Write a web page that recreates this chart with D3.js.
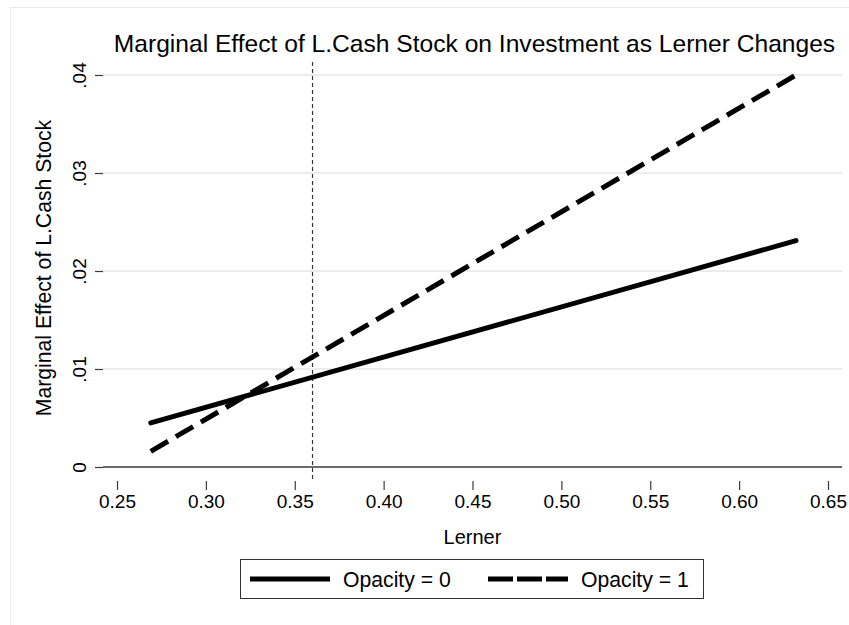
<!DOCTYPE html>
<html>
<head>
<meta charset="utf-8">
<script src="https://cdn.jsdelivr.net/npm/d3@7"></script>
<style>
  body { margin: 0; background: #fff; }
  text { font-family: 'Liberation Sans', Arial, sans-serif; fill: #000; }
</style>
</head>
<body>
<script>
const lerner = [0.269, 0.632];
const opacity0 = [0.0045, 0.0231];
const opacity1 = [0.0016, 0.04];
const meanLerner = 0.36;
const xTicks = [0.25, 0.3, 0.35, 0.4, 0.45, 0.5, 0.55, 0.6, 0.65];
const yTicks = [0, 0.01, 0.02, 0.03, 0.04];
const yTickLabels = ['0', '.01', '.02', '.03', '.04'];
const seriesNames = ['Opacity = 0', 'Opacity = 1'];

const W = 849, H = 625;
const plot = { left: 103, right: 842, top: 62, bottom: 481 };

const svg = d3.select('body').append('svg')
  .attr('width', W)
  .attr('height', H);

// outer graph frame
svg.append('rect')
  .attr('x', 10.5).attr('y', 7.5)
  .attr('width', W).attr('height', H)
  .attr('fill', 'none')
  .attr('stroke', '#e8e8e8');

const x = d3.scaleLinear().domain([0.25, 0.65]).range([117, 828]);
const y = d3.scaleLinear().domain([0, 0.04]).range([467, 75]);

// grid lines
svg.append('g')
  .selectAll('line')
  .data(yTicks.filter((d) => d !== 0))
  .join('line')
  .attr('x1', plot.left).attr('x2', plot.right)
  .attr('y1', (d) => y(d)).attr('y2', (d) => y(d))
  .attr('stroke', '#e6e6e6')
  .attr('stroke-width', 1.5);

// zero line
svg.append('line')
  .attr('x1', plot.left).attr('x2', plot.right)
  .attr('y1', y(0)).attr('y2', y(0))
  .attr('stroke', '#3a3a3a')
  .attr('stroke-width', 1.5);

// y axis
const yAxis = svg.append('g')
  .attr('transform', `translate(${plot.left},0)`)
  .call(d3.axisLeft(y).tickValues(yTicks).tickSize(8)
    .tickFormat((d, i) => yTickLabels[i]));
yAxis.select('.domain').remove();
yAxis.selectAll('.tick line').attr('stroke', '#3a3a3a').attr('stroke-width', 1.2);
yAxis.selectAll('.tick text')
  .attr('x', null).attr('dy', null)
  .attr('transform', 'translate(-17,0) rotate(-90)')
  .attr('text-anchor', 'middle')
  .attr('font-size', 19)
  .style('font-family', null)
  .attr('fill', '#000');

// x axis
const xAxis = svg.append('g')
  .attr('transform', `translate(0,${plot.bottom})`)
  .call(d3.axisBottom(x).tickValues(xTicks).tickSize(9).tickPadding(5)
    .tickFormat(d3.format('.2f')));
xAxis.select('.domain').remove();
xAxis.selectAll('.tick line').attr('stroke', '#3a3a3a').attr('stroke-width', 1.2);
xAxis.selectAll('.tick text')
  .attr('font-size', 19)
  .style('font-family', null)
  .attr('fill', '#000');

// vertical reference line
svg.append('line')
  .attr('x1', x(meanLerner)).attr('x2', x(meanLerner))
  .attr('y1', plot.top).attr('y2', plot.bottom)
  .attr('stroke', '#333')
  .attr('stroke-width', 1.2)
  .attr('stroke-dasharray', '4 3');

// lines
const line = d3.line()
  .x((d) => x(d[0]))
  .y((d) => y(d[1]));

const series = [
  { name: seriesNames[0], values: lerner.map((l, i) => [l, opacity0[i]]), dash: null },
  { name: seriesNames[1], values: lerner.map((l, i) => [l, opacity1[i]]), dash: '20 9' },
];

svg.append('g')
  .selectAll('path')
  .data(series)
  .join('path')
  .attr('d', (d) => line(d.values))
  .attr('fill', 'none')
  .attr('stroke', '#000')
  .attr('stroke-width', 5)
  .attr('stroke-linecap', (d) => (d.dash ? 'butt' : 'round'))
  .attr('stroke-dasharray', (d) => d.dash);

// title
svg.append('text')
  .attr('x', 474.5).attr('y', 52)
  .attr('text-anchor', 'middle')
  .attr('font-size', 24.6)
  .text('Marginal Effect of L.Cash Stock on Investment as Lerner Changes');

// axis titles
svg.append('text')
  .attr('transform', 'translate(51,268) rotate(-90)')
  .attr('text-anchor', 'middle')
  .attr('font-size', 21.2)
  .text('Marginal Effect of L.Cash Stock');

svg.append('text')
  .attr('x', 472.5).attr('y', 544)
  .attr('text-anchor', 'middle')
  .attr('font-size', 20)
  .text('Lerner');

// legend
const legend = svg.append('g');
legend.append('rect')
  .attr('x', 240.5).attr('y', 559.5)
  .attr('width', 463).attr('height', 39)
  .attr('fill', '#fff')
  .attr('stroke', '#333')
  .attr('stroke-width', 1);

const legendX = [250, 488];
const item = legend.selectAll('g.item')
  .data(series)
  .join('g')
  .attr('class', 'item')
  .attr('transform', (d, i) => `translate(${legendX[i]},579)`);

item.append('line')
  .attr('x1', 0).attr('x2', 80)
  .attr('stroke', '#000')
  .attr('stroke-width', 5)
  .attr('stroke-dasharray', (d) => (d.dash ? '25 4' : null));

item.append('text')
  .attr('x', 93).attr('y', 7.5)
  .attr('font-size', 21.2)
  .text((d) => d.name);
</script>
</body>
</html>
